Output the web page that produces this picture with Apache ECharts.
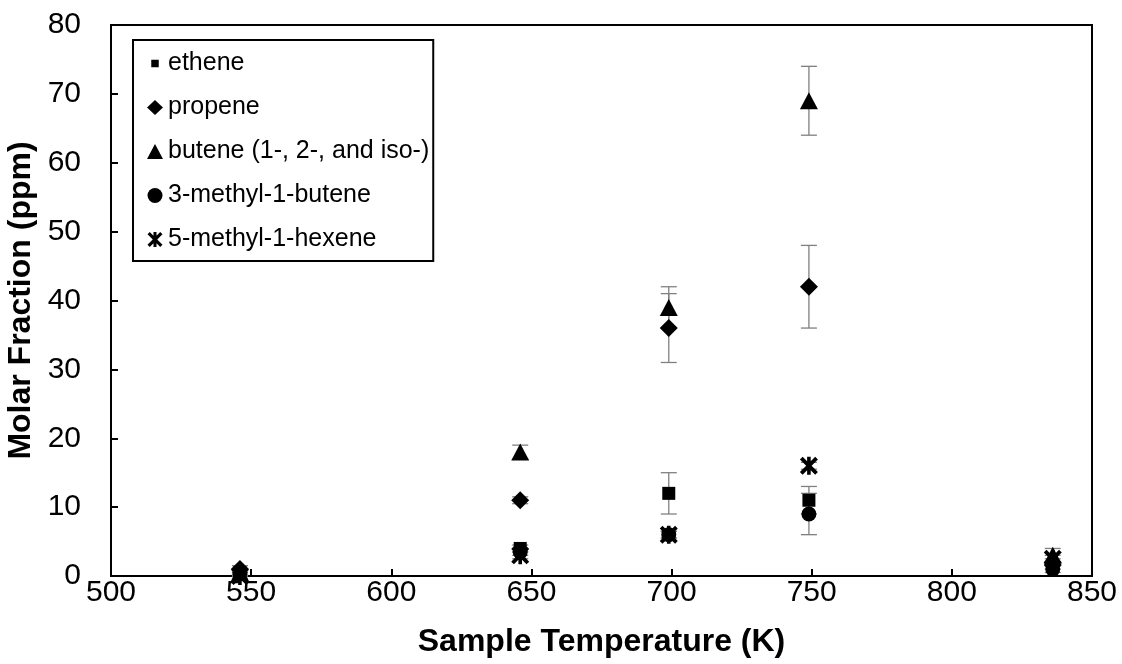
<!DOCTYPE html>
<html><head><meta charset="utf-8">
<script src="https://cdn.jsdelivr.net/npm/echarts@6/dist/echarts.min.js"></script>
<style>html,body{margin:0;padding:0;background:#fff}#c{width:1122px;height:664px}</style>
</head><body><div id="c"></div>
<script>
const temps = [546, 646, 699, 749, 836];
const seriesNames = ['ethene', 'propene', 'butene (1-, 2-, and iso-)', '3-methyl-1-butene', '5-methyl-1-hexene'];
const ethene = [0.5, 4, 12, 11, 1.5];
const propene = [1, 11, 36, 42, 2];
const butene = [0.5, 18, 39, 69, 3];
const methylbutene = [0.5, 3.5, 6, 9, 1];
const methylhexene = [0, 3, 6, 16, 2.5];
const etheneErr = [0.5, 0.5, 3, 2, 0.5];
const propeneErr = [0.5, 0.5, 5, 6, 0.5];
const buteneErr = [0.5, 1, 3, 5, 1];
const methylbuteneErr = [0.3, 0.5, 0.5, 3, 0.5];
const methylhexeneErr = [0.3, 0.5, 0.5, 0.5, 0.5];
const xTicks = [500, 550, 600, 650, 700, 750, 800, 850];
const yTicks = [0, 10, 20, 30, 40, 50, 60, 70, 80];

const starPath = 'path://M3,0 L10,7 L17,0 L20,3 L13,10 L20,17 L17,20 L10,13 L3,20 L0,17 L7,10 L0,3 Z M8,0 L12,0 L12,20 L8,20 Z';
const smallSquare = 'path://M0,0 L0.01,0 L0,0.01 Z M5,5 L15,5 L15,15 L5,15 Z M20,20 L19.99,20 L20,19.99 Z';
const symbols = ['rect', 'diamond', 'triangle', 'circle', starPath];
const legendIcons = [smallSquare, 'diamond', 'triangle', 'circle', starPath];
const sizes = [[13, 13], [18, 18], [18, 17], [15, 15], [18, 18]];
const values = [ethene, propene, butene, methylbutene, methylhexene];
const errs = [etheneErr, propeneErr, buteneErr, methylbuteneErr, methylhexeneErr];

const errData = [];
values.forEach((v, s) => v.forEach((y, i) => errData.push([temps[i], y - errs[s][i], y + errs[s][i]])));

const font = 'Liberation Sans, Arial, sans-serif';
const chart = echarts.init(document.getElementById('c'), null, {renderer: 'canvas'});
const series = [{
  type: 'custom',
  name: 'err',
  data: errData,
  clip: false,
  z: 1,
  renderItem: function (params, api) {
    const x = api.value(0);
    const lo = api.coord([x, api.value(1)]);
    const hi = api.coord([x, api.value(2)]);
    const hw = 8;
    const st = {stroke: '#808080', lineWidth: 1.3};
    return {type: 'group', children: [
      {type: 'line', shape: {x1: lo[0], y1: lo[1], x2: hi[0], y2: hi[1]}, style: st},
      {type: 'line', shape: {x1: lo[0] - hw, y1: lo[1], x2: lo[0] + hw, y2: lo[1]}, style: st},
      {type: 'line', shape: {x1: hi[0] - hw, y1: hi[1], x2: hi[0] + hw, y2: hi[1]}, style: st}
    ]};
  }
}];
values.forEach((v, s) => series.push({
  type: 'scatter',
  name: seriesNames[s],
  data: v.map((y, i) => [temps[i], y]),
  symbol: symbols[s],
  symbolSize: sizes[s],
  itemStyle: {color: '#000', opacity: 1},
  clip: false,
  z: 3,
  emphasis: {disabled: true}
}));

chart.setOption({
  animation: false,
  backgroundColor: '#fff',
  grid: {left: 111, right: 30, top: 25, bottom: 88, outerBoundsMode: 'none', containLabel: false,
    show: true, borderColor: '#000', borderWidth: 2, backgroundColor: 'transparent'},
  xAxis: {
    type: 'value', min: 500, max: 850, interval: 50,
    axisLine: {show: true, onZero: false, lineStyle: {color: '#000', width: 2}},
    axisTick: {show: true, inside: true, length: 7, lineStyle: {color: '#000', width: 2}},
    splitLine: {show: false},
    axisLabel: {color: '#000', fontSize: 30, fontFamily: font, margin: 2,
      formatter: v => xTicks.includes(v) ? String(v) : ''},
    name: 'Sample Temperature (K)', nameLocation: 'middle', nameGap: 50,
    nameTextStyle: {color: '#000', fontSize: 32, fontWeight: 'bold', fontFamily: font}
  },
  yAxis: {
    type: 'value', min: 0, max: 80, interval: 10,
    axisLine: {show: true, onZero: false, lineStyle: {color: '#000', width: 2}},
    axisTick: {show: true, inside: true, length: 7, lineStyle: {color: '#000', width: 2}},
    splitLine: {show: false},
    axisLabel: {color: '#000', fontSize: 30, fontFamily: font, margin: 30,
      formatter: v => yTicks.includes(v) ? String(v) : ''},
    name: 'Molar Fraction (ppm)', nameLocation: 'middle', nameGap: 62, nameRotate: 90,
    nameTextStyle: {color: '#000', fontSize: 32, fontWeight: 'bold', fontFamily: font}
  },
  legend: {
    data: seriesNames.map((n, s) => ({name: n, icon: legendIcons[s]})),
    orient: 'vertical', left: 133, top: 40,
    borderColor: '#000', borderWidth: 2, backgroundColor: '#fff',
    padding: [11, 4, 9, 14],
    itemWidth: 16, itemHeight: 15, itemGap: 19,
    textStyle: {color: '#000', fontSize: 25, fontFamily: font, padding: [0, 0, 0, 0]},
    itemStyle: {color: '#000', opacity: 1}
  },
  series: series
});
</script></body></html>
